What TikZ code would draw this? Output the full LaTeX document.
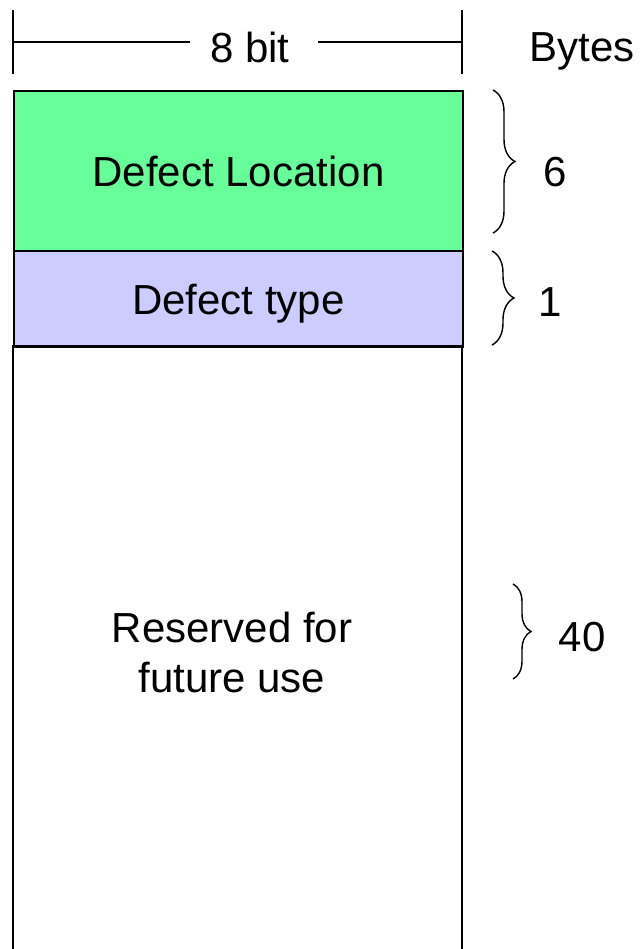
\documentclass[tikz,border=0pt]{standalone}
\usepackage{fontspec}
\setmainfont{Liberation Sans}
\usetikzlibrary{decorations.pathreplacing}
\definecolor{locgreen}{HTML}{66FF99}
\definecolor{typeblue}{HTML}{CCCCFF}
\begin{document}
\begin{tikzpicture}[x=1pt,y=-1pt,
  field/.style={draw=black,line width=2pt,minimum width=449pt,inner sep=0pt,anchor=north west,
    font=\fontsize{42}{50}\selectfont,align=center,text depth=0pt},
  lbl/.style={font=\fontsize{42}{50}\selectfont,inner sep=0pt},
  rule/.style={line width=1.5pt},
  bytebrace/.style={decorate,line width=1.4pt,decoration={brace,amplitude=#1}}]
\useasboundingbox (0,0) rectangle (641,949);
% header: width of one byte and the byte-count column
\coordinate (tl) at (13,10);
\coordinate (bl) at (13,74);
\coordinate (tr) at (462,10);
\coordinate (br) at (462,74);
\coordinate (ml) at (13,42);
\coordinate (mr) at (462,42);
\coordinate (gl) at (190,42);
\coordinate (gr) at (318,42);
\node[lbl] (bits) at (250,47) {8 bit};
\node[lbl,text depth=0pt] (bytes) at (582,47) {Bytes};
\draw[rule] (tl) -- (bl);
\draw[rule] (tr) -- (br);
\draw[rule] (ml) -- (gl);
\draw[rule] (gr) -- (mr);
% record fields
\node[field,fill=locgreen,minimum height=160pt] (loc) at (13,90) {Defect Location};
\node[field,fill=typeblue,minimum height=96pt] (type) at (13,250) {Defect type};
\coordinate (resTL) at (13,346);
\coordinate (resTR) at (462,346);
\coordinate (resBL) at (13,949);
\coordinate (resBR) at (462,949);
\draw[line width=2pt] (resBL) -- (resTL) -- (resTR) -- (resBR);
\node[lbl,align=center] (res) at (232,652) {Reserved for\\future use};
% byte counts
\coordinate (b1t) at (493,90);
\coordinate (b1b) at (493,233);
\coordinate (b2t) at (492,251);
\coordinate (b2b) at (492,345);
\coordinate (b3t) at (513,584);
\coordinate (b3b) at (513,679);
\draw[bytebrace=22pt] (b1t) -- (b1b);
\draw[bytebrace=22pt] (b2t) -- (b2b);
\draw[bytebrace=18pt] (b3t) -- (b3b);
\node[lbl] (n6) at (555,172) {6};
\node[lbl] (n1) at (550,302) {1};
\node[lbl] (n40) at (582,637) {40};
\end{tikzpicture}
\end{document}
